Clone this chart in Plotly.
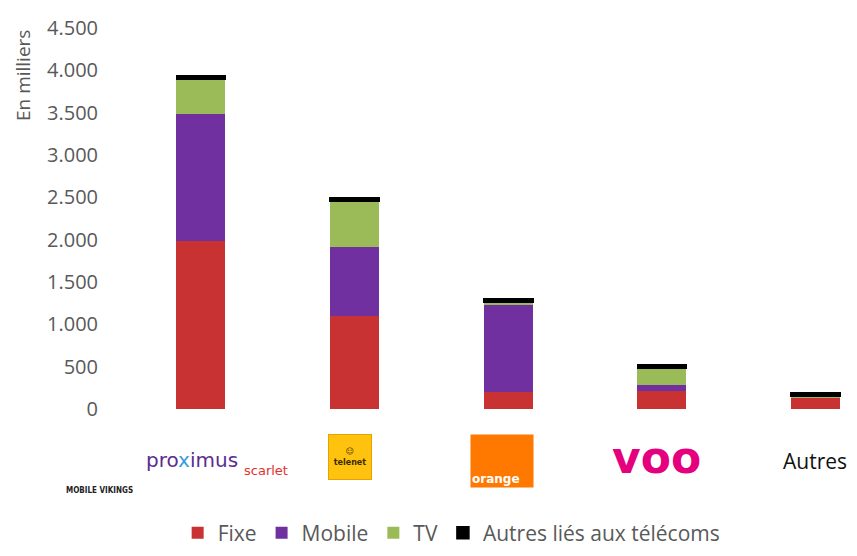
import plotly.graph_objects as go

categories = ["Proximus", "Telenet", "Orange", "VOO", "Autres"]
fixe = [1980, 1100, 195, 215, 130]
mobile = [1505, 808, 1035, 70, 8]
tv = [410, 543, 27, 195, 8]
autres_telecom = [40, 40, 50, 40, 45]

series_names = ["Fixe", "Mobile", "TV", "Autres liés aux télécoms"]
colors = ["#c83232", "#7030a0", "#9bbb59", "#000000"]
y_ticks = [0, 500, 1000, 1500, 2000, 2500, 3000, 3500, 4000, 4500]
y_ticktext = ["0", "500", "1.000", "1.500", "2.000", "2.500", "3.000", "3.500", "4.000", "4.500"]

FONT = "Open Sans"
GRAY = "#595959"

fig = go.Figure()
for name, vals, col in zip(series_names, [fixe, mobile, tv, autres_telecom], colors):
    fig.add_trace(go.Bar(
        x=categories, y=vals, name=name, marker_color=col,
        marker_line=dict(color=col, width=1.5 if col == "#000000" else 0),
    ))

H_PLOT = 381.0
def ypaper(ypix):
    return (409 - ypix) / H_PLOT

ann = []
# y-axis title
ann.append(dict(text="En milliers", xref="paper", yref="paper", x=(23 - 124) / 733, y=ypaper(75),
                textangle=-90, showarrow=False, font=dict(family=FONT, size=19, color=GRAY),
                xanchor="center", yanchor="middle"))
# category "logos" rendered as text
ann.append(dict(text="<b>MOBILE VIKINGS</b>", xref="x", yref="paper", x="Proximus", xshift=-101,
                y=ypaper(490), showarrow=False, font=dict(family="DejaVu Sans Condensed", size=8, color="#222"),
                xanchor="center", yanchor="middle"))
ann.append(dict(text="pro<span style='color:#3a9ad9'>x</span>imus", xref="x", yref="paper", x="Proximus", xshift=-9,
                y=ypaper(460), showarrow=False, font=dict(family="DejaVu Sans", size=20, color="#5c2d91"),
                xanchor="center", yanchor="middle"))
ann.append(dict(text="scarlet", xref="x", yref="paper", x="Proximus", xshift=65,
                y=ypaper(470), showarrow=False, font=dict(family="DejaVu Sans", size=13, color="#e4312b"),
                xanchor="center", yanchor="middle"))
ann.append(dict(text="<b>☺</b><br><b>telenet</b>", xref="x", yref="paper", x="Telenet", xshift=-5,
                y=ypaper(457), showarrow=False, font=dict(family="DejaVu Sans", size=8, color="#3a2a00"),
                bgcolor="#ffc20e", bordercolor="#e8a200", borderwidth=1, width=40, height=42,
                xanchor="center", yanchor="middle", valign="middle"))
ann.append(dict(text="<b>orange</b>", xref="x", yref="paper", x="Orange", xshift=-6,
                y=ypaper(461), showarrow=False, font=dict(family="DejaVu Sans", size=12, color="#ffffff"),
                bgcolor="#ff7900", width=60, height=50, align="left", valign="bottom",
                xanchor="center", yanchor="middle"))
ann.append(dict(text="<b>voo</b>", xref="x", yref="paper", x="VOO", xshift=-5,
                y=ypaper(457), showarrow=False, font=dict(family="DejaVu Sans", size=44, color="#e5007d"),
                xanchor="center", yanchor="middle"))
ann.append(dict(text="Autres", xref="x", yref="paper", x="Autres", xshift=-1,
                y=ypaper(461), showarrow=False, font=dict(family=FONT, size=21, color="#111111"),
                xanchor="center", yanchor="middle"))

fig.update_layout(
    width=857, height=556,
    margin=dict(l=124, r=0, t=28, b=147, autoexpand=False),
    barmode="stack", bargap=0.68,
    plot_bgcolor="white", paper_bgcolor="white",
    font=dict(family=FONT, size=19, color=GRAY),
    xaxis=dict(range=[-0.5, 4.27], showticklabels=False, showgrid=False, zeroline=False,
               showline=False, ticks=""),
    yaxis=dict(range=[0, 4500], tickvals=y_ticks, ticktext=y_ticktext, showgrid=False,
               zeroline=False, showline=False, ticks="", ticklabelstandoff=25,
               tickfont=dict(family=FONT, size=20, color=GRAY)),
    legend=dict(orientation="h", x=0.447, xanchor="center", y=ypaper(533), yanchor="middle",
                font=dict(family=FONT, size=21, color=GRAY), traceorder="normal",
                itemwidth=30, tracegroupgap=0),
    showlegend=True,
    annotations=ann,
)

fig.write_html("out.html", config={"displayModeBar": False},
               post_script="document.body.style.margin='0';")
